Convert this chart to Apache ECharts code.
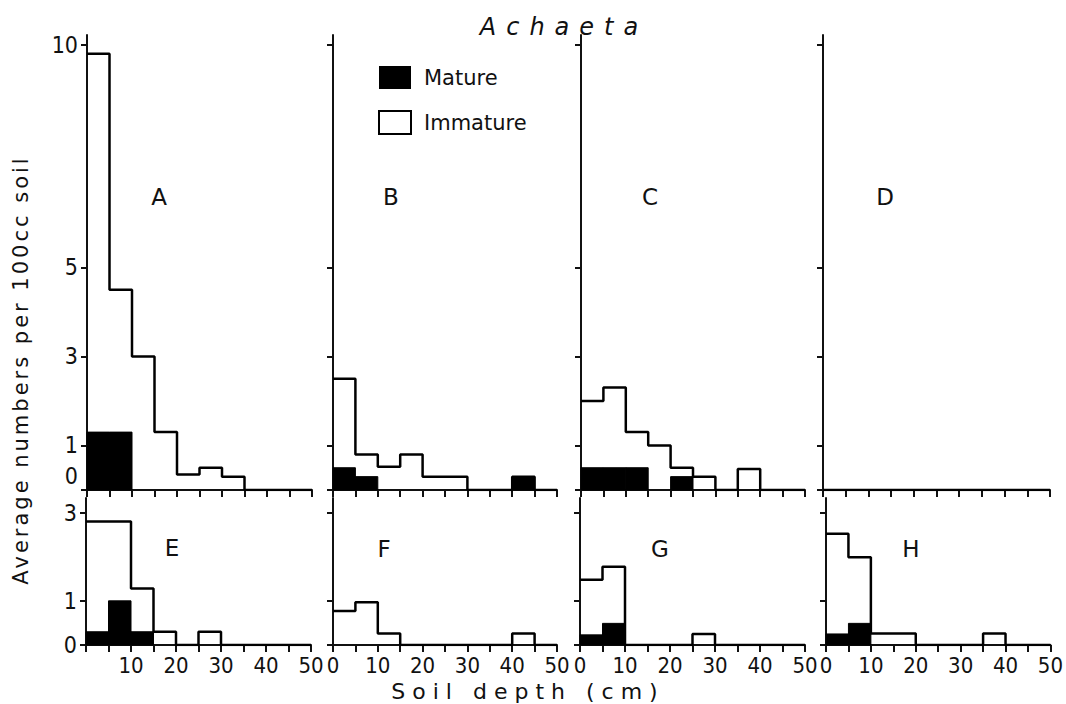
<!DOCTYPE html>
<html><head><meta charset="utf-8">
<script src="https://cdn.jsdelivr.net/npm/echarts@6/dist/echarts.min.js"></script>
<style>html,body{margin:0;padding:0;background:#fff}#chart{width:1066px;height:704px}</style>
</head><body><div id="chart"></div>
<script>
// ---- data ----
const depthEdges = [0, 5, 10, 15, 20, 25, 30, 35, 40, 45, 50];
const panelNames = ['A', 'B', 'C', 'D', 'E', 'F', 'G', 'H'];
const topYTicks = [0, 1, 3, 5, 10];
const bottomYTicks = [0, 1, 3];
const xLabelValues = [0, 10, 20, 30, 40, 50];

// outline (total) heights per 5 cm bin, and mature (black) heights
const totalA  = [9.8, 4.5, 3.0, 1.3, 0.35, 0.5, 0.3, 0, 0, 0];
const matureA = [1.3, 1.3, 0, 0, 0, 0, 0, 0, 0, 0];
const totalB  = [2.5, 0.8, 0.52, 0.8, 0.3, 0.3, 0, 0, 0.3, 0];
const matureB = [0.5, 0.3, 0, 0, 0, 0, 0, 0, 0.3, 0];
const totalC  = [2.0, 2.3, 1.3, 1.0, 0.5, 0.3, 0, 0.47, 0, 0];
const matureC = [0.5, 0.5, 0.5, 0, 0.3, 0, 0, 0, 0, 0];
const totalD  = [0, 0, 0, 0, 0, 0, 0, 0, 0, 0];
const matureD = [0, 0, 0, 0, 0, 0, 0, 0, 0, 0];
const totalE  = [2.8, 2.8, 1.28, 0.3, 0, 0.3, 0, 0, 0, 0];
const matureE = [0.3, 1.0, 0.3, 0, 0, 0, 0, 0, 0, 0];
const totalF  = [0.77, 0.97, 0.26, 0, 0, 0, 0, 0, 0.26, 0];
const matureF = [0, 0, 0, 0, 0, 0, 0, 0, 0, 0];
const totalG  = [1.48, 1.77, 0, 0, 0, 0.25, 0, 0, 0, 0];
const matureG = [0.23, 0.49, 0, 0, 0, 0, 0, 0, 0, 0];
const totalH  = [2.52, 1.99, 0.26, 0.26, 0, 0, 0, 0.26, 0, 0];
const matureH = [0.25, 0.49, 0, 0, 0, 0, 0, 0, 0, 0];

const totals  = [totalA, totalB, totalC, totalD, totalE, totalF, totalG, totalH];
const matures = [matureA, matureB, matureC, matureD, matureE, matureF, matureG, matureH];

// ---- layout ----
const grids = [
  {left: 87,  top: 35,  width: 225, height: 455},
  {left: 333, top: 35,  width: 224, height: 455},
  {left: 581, top: 35,  width: 224, height: 455},
  {left: 823, top: 35,  width: 227, height: 455},
  {left: 86,  top: 498, width: 225, height: 147},
  {left: 333, top: 498, width: 224, height: 147},
  {left: 580, top: 498, width: 225, height: 147},
  {left: 826, top: 498, width: 225, height: 147}
];
const letterPos = [[159,197],[391,197],[650,197],[885,197],[172,548],[384,549],[660,549],[911,549]];

const INK = '#111';
const NUM_FONT = "'Liberation Sans Narrow', 'DejaVu Sans Condensed', 'Liberation Sans', sans-serif";
const TXT_FONT = "'DejaVu Sans', sans-serif";
const yLabStyle = {fontSize: 23, fontFamily: NUM_FONT, color: INK};

const xAxes = [], yAxes = [], series = [], graphics = [];
grids.forEach((g, i) => {
  const top = i < 4;
  xAxes.push({
    type: 'value', gridIndex: i, min: 0, max: 50, interval: 5,
    axisLine: {show: true, onZero: false, lineStyle: {color: INK, width: 2}},
    axisTick: {show: true, inside: false, length: 7, lineStyle: {color: INK, width: 2}},
    splitLine: {show: false},
    axisLabel: {
      show: !top, margin: 11, fontSize: 22, lineHeight: 18, fontFamily: NUM_FONT, color: INK,
      formatter: v => (xLabelValues.includes(v) && !(i === 4 && v === 0)) ? String(v) : ''
    }
  });
  yAxes.push({
    type: 'value', gridIndex: i, min: 0, max: top ? 10.22 : 3.33,
    axisLine: {show: true, lineStyle: {color: INK, width: 2}},
    axisTick: {show: true, length: 6, lineStyle: {color: INK, width: 2},
               customValues: top ? topYTicks : bottomYTicks},
    splitLine: {show: false},
    axisLabel: Object.assign({
      show: i === 0 || i === 4, margin: 9, lineHeight: 18,
      customValues: top ? topYTicks : bottomYTicks,
      // in panel A the "0" sits a little above its tick, as in the reference
      formatter: v => (i === 0 && v === 0) ? '{raised|0}' : String(v),
      rich: {raised: Object.assign({padding: [0, 0, 28, 0], lineHeight: 18}, yLabStyle)}
    }, yLabStyle)
  });
  const tot = totals[i], mat = matures[i];
  const stepData = tot.map((v, k) => [depthEdges[k], v]);
  stepData.push([depthEdges[depthEdges.length - 1], tot[tot.length - 1]]);
  series.push({
    type: 'line', name: 'Immature', xAxisIndex: i, yAxisIndex: i, step: 'end',
    symbol: 'none', silent: true, z: 3, data: stepData,
    lineStyle: {color: '#000', width: 2.5}, itemStyle: {color: '#000'}
  });
  const rects = [];
  mat.forEach((v, k) => { if (v > 0) rects.push([depthEdges[k], depthEdges[k + 1], v]); });
  series.push({
    type: 'custom', name: 'Mature', xAxisIndex: i, yAxisIndex: i, z: 2, silent: true,
    encode: {x: [0, 1], y: 2}, data: rects, itemStyle: {color: '#000'},
    renderItem: (params, api) => {
      const p0 = api.coord([api.value(0), api.value(2)]);
      const p1 = api.coord([api.value(1), 0]);
      return {type: 'rect', shape: {x: p0[0], y: p0[1], width: p1[0] - p0[0], height: p1[1] - p0[1]},
              style: {fill: '#000', stroke: '#000', lineWidth: 1}};
    }
  });
  graphics.push({
    type: 'text', x: letterPos[i][0], y: letterPos[i][1], silent: true,
    style: {text: panelNames[i], font: "23px 'DejaVu Sans', sans-serif", fill: INK,
            align: 'center', verticalAlign: 'middle', textAlign: 'center', textVerticalAlign: 'middle'}
  });
});

graphics.push({
  type: 'text', x: 564, y: 27, silent: true,
  style: {text: 'Achaeta', font: "italic 24px 'DejaVu Sans', sans-serif", fill: INK,
          align: 'center', verticalAlign: 'middle', textAlign: 'center', textVerticalAlign: 'middle'}
});
graphics.push({
  type: 'text', x: 528, y: 691, silent: true,
  style: {text: 'Soil depth (cm)', font: "22px 'DejaVu Sans', sans-serif", fill: INK,
          align: 'center', verticalAlign: 'middle', textAlign: 'center', textVerticalAlign: 'middle'}
});
graphics.push({
  type: 'text', x: 21, y: 370, rotation: Math.PI / 2, silent: true,
  style: {text: 'Average numbers per 100cc soil', font: "21px 'DejaVu Sans', sans-serif", fill: INK,
          align: 'center', verticalAlign: 'middle', textAlign: 'center', textVerticalAlign: 'middle'}
});

const chart = echarts.init(document.getElementById('chart'), null, {renderer: 'svg'});
chart.setOption({
  backgroundColor: '#fff',
  animation: false,
  grid: grids.map(g => Object.assign({containLabel: false}, g)),
  xAxis: xAxes,
  yAxis: yAxes,
  legend: {
    left: 378, top: 66, orient: 'vertical', padding: 0, itemWidth: 32, itemHeight: 23, itemGap: 21,
    selectedMode: false,
    textStyle: {fontSize: 21, fontFamily: TXT_FONT, color: INK, padding: [0, 0, 0, 8]},
    data: [
      {name: 'Mature', icon: 'rect', itemStyle: {color: '#000'}},
      {name: 'Immature', icon: 'rect', itemStyle: {color: '#fff', borderColor: '#000', borderWidth: 2}}
    ]
  },
  graphic: graphics,
  series: series
});

const spacing = {'Achaeta': '10px', 'Soil depth (cm)': '7px', 'Average numbers per 100cc soil': '3px'};
function spaceOut() {
  document.querySelectorAll('#chart text').forEach(t => {
    const s = t.textContent;
    if (spacing[s]) t.style.letterSpacing = spacing[s];
  });
}
spaceOut();
chart.on('finished', spaceOut);
</script></body></html>
